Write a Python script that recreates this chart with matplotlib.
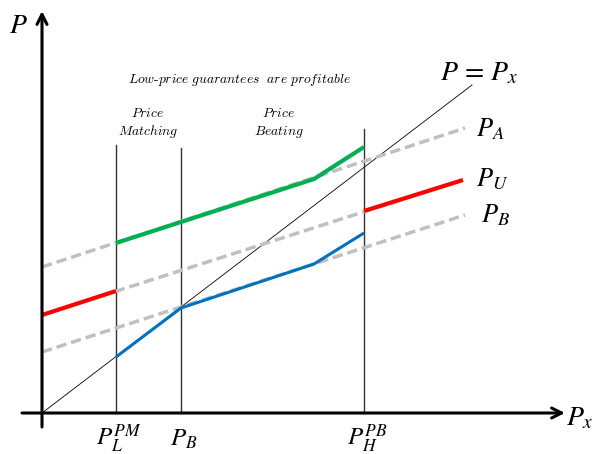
import matplotlib
matplotlib.use("Agg")
import matplotlib.pyplot as plt

plt.rcParams["mathtext.fontset"] = "stix"

# Schematic price lines (horizontal: rival price P_x, vertical: price P)
diag_x = [0, 430]
diag_y = [0, 328]

pa_x = [0, 423]
pa_y = [146, 285]
pu_x = [0, 421]
pu_y = [98, 233]
pb_x = [0, 423]
pb_y = [61, 198]

green_x = [74, 272, 322]
green_y = [170, 234, 266]
red_lo_x = [0, 74]
red_lo_y = [98, 122]
red_hi_x = [322, 421]
red_hi_y = [202, 233]
blue_x = [74, 139, 272, 322]
blue_y = [56, 105, 149, 180]

thresh_x = [74, 139, 322]
thresh_top = [268, 265, 284]
thresh_labels = [r"$P_L^{PM}$", r"$P_B$", r"$P_H^{PB}$"]

curve_labels = [r"$P_A$", r"$P_U$", r"$P_B$"]

fig = plt.figure(figsize=(6.01, 4.54), dpi=100)
ax = fig.add_axes([0, 0, 1, 1])
ax.set_xlim(-42, 559)
ax.set_ylim(-41, 413)
ax.axis("off")

# axes with arrow heads
ax.annotate("", xy=(523, 0), xytext=(-20, 0),
            arrowprops=dict(arrowstyle="->", lw=2.2, color="black",
                            mutation_scale=18, shrinkA=0, shrinkB=0))
ax.annotate("", xy=(0, 402), xytext=(0, -14),
            arrowprops=dict(arrowstyle="->", lw=2.2, color="black",
                            mutation_scale=18, shrinkA=0, shrinkB=0))

# 45-degree line
ax.plot(diag_x, diag_y, color="black", lw=0.6)

# threshold verticals
for x, top in zip(thresh_x, thresh_top):
    ax.plot([x, x], [0, top], color="#333333", lw=1.0)

dash = dict(color="#c0c0c0", lw=2.5, dashes=(3, 1.4))
ax.plot(pa_x, pa_y, **dash)
ax.plot(pu_x, pu_y, **dash)
ax.plot(pb_x, pb_y, **dash)

ax.plot(green_x, green_y, color="#00b050", lw=3, solid_capstyle="butt")
ax.plot(red_lo_x, red_lo_y, color="#ff0000", lw=3, solid_capstyle="butt")
ax.plot(red_hi_x, red_hi_y, color="#ff0000", lw=3, solid_capstyle="butt")
ax.plot(blue_x, blue_y, color="#0070c0", lw=2.2, solid_capstyle="butt")

# axis titles
ax.text(-24, 388, r"$P$", fontsize=20, ha="center", va="center")
ax.text(538, -4, r"$P_x$", fontsize=20, ha="center", va="center")
ax.text(437, 341, r"$P\,=\,P_x$", fontsize=20, ha="center", va="center")

# curve labels
for lbl, (lx, ly) in zip(curve_labels, [(448, 284), (450, 234), (453, 198)]):
    ax.text(lx, ly, lbl, fontsize=19, ha="center", va="center")

# threshold labels
for x, lbl in zip(thresh_x, thresh_labels):
    ax.text(x + 3, -26, lbl, fontsize=18, ha="center", va="center")

# region annotations
ax.text(198, 333,
        r"$\mathit{Low}\text{-}\mathit{price\ guarantees\ \ are\ profitable}$",
        fontsize=9.8, ha="center", va="center", math_fontfamily="cm")
ax.text(106, 290, r"$\mathit{Price}$" + "\n" + r"$\mathit{Matching}$",
        fontsize=9.8, ha="center", va="center", math_fontfamily="cm",
        linespacing=1.3)
ax.text(237, 290, r"$\mathit{Price}$" + "\n" + r"$\mathit{Beating}$",
        fontsize=9.8, ha="center", va="center", math_fontfamily="cm",
        linespacing=1.3)

fig.savefig("out.png", dpi=100)
